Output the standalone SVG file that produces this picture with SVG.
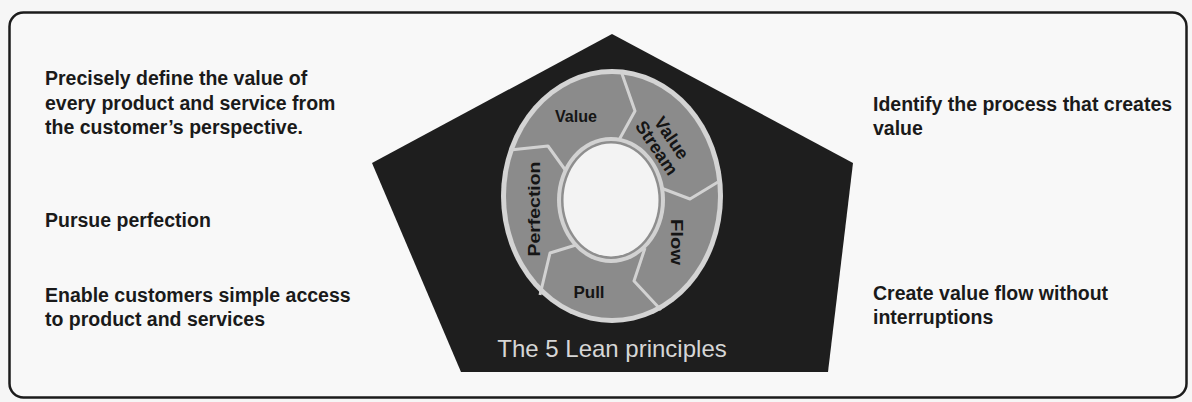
<svg xmlns="http://www.w3.org/2000/svg" width="1192" height="402" viewBox="0 0 1192 402">
  <style>
    .note { font-family: "Liberation Sans", Arial, sans-serif; font-weight: bold; font-size: 19.5px; fill: #1a1a1a; }
    .seg { font-family: "Liberation Sans", Arial, sans-serif; font-weight: bold; font-size: 17px; fill: #151515; }
    .sep { fill: none; stroke: #d2d2d2; stroke-width: 3; stroke-linejoin: round; }
    .title { font-family: "Liberation Sans", Arial, sans-serif; font-size: 24px; fill: #d6d6d6; }
  </style>
  <rect x="0" y="0" width="1192" height="402" fill="#f6f6f6"/>
  <rect id="frame" x="9.5" y="12.5" width="1177" height="385" rx="14" ry="14" fill="#f8f8f8" stroke="#1c1c1c" stroke-width="2.5"/>

  <g id="pentagon">
    <polygon points="612,34 853,163 828,372 461,372 372,163" fill="#1e1e1e"/>
    <text class="title" x="612" y="357" text-anchor="middle">The 5 Lean principles</text>
  </g>

  <g id="cycle">
    <ellipse cx="612" cy="196" rx="111" ry="127" fill="#d4d4d4"/>
    <ellipse cx="612" cy="196" rx="106" ry="122" fill="#8b8b8b"/>
    <ellipse cx="611" cy="200" rx="54" ry="63" fill="#d2d2d2"/>
    <ellipse cx="611" cy="200" rx="50" ry="59" fill="#8e8e8e"/>
    <ellipse cx="611" cy="200" rx="47.5" ry="56.5" fill="#f3f3f3"/>
  </g>

  <g id="connectors">
    <polyline class="sep" points="510,150 548,146 566,171"/>
    <polyline class="sep" points="621,71 635,111 619,140"/>
    <polyline class="sep" points="718,182 690,199 661,188"/>
    <polyline class="sep" points="645,248 634,281 661,310"/>
    <polyline class="sep" points="576,245 550,253 540,295"/>
  </g>

  <g id="seg-value">
    <text class="seg" x="576" y="122" text-anchor="middle" textLength="42" lengthAdjust="spacingAndGlyphs">Value</text>
  </g>
  <g id="seg-value-stream">
    <text class="seg" transform="translate(664,143) rotate(56)" text-anchor="middle" style="font-size:18px"><tspan x="0" y="-3">Value</tspan><tspan x="0" y="15">Stream</tspan></text>
  </g>
  <g id="seg-flow">
    <text class="seg" transform="translate(671,242) rotate(90)" text-anchor="middle" textLength="46" lengthAdjust="spacingAndGlyphs">Flow</text>
  </g>
  <g id="seg-pull">
    <text class="seg" x="589" y="298" text-anchor="middle">Pull</text>
  </g>
  <g id="seg-perfection">
    <text class="seg" transform="translate(540,209) rotate(-90)" text-anchor="middle" textLength="95" lengthAdjust="spacingAndGlyphs">Perfection</text>
  </g>

  <g id="note-value">
    <text class="note" x="45" y="85">Precisely define the value of</text>
    <text class="note" x="45" y="110">every product and service from</text>
    <text class="note" x="45" y="134">the customer’s perspective.</text>
  </g>
  <g id="note-perfection">
    <text class="note" x="45" y="227">Pursue perfection</text>
  </g>
  <g id="note-pull">
    <text class="note" x="45" y="302">Enable customers simple access</text>
    <text class="note" x="45" y="326">to product and services</text>
  </g>
  <g id="note-value-stream">
    <text class="note" x="873" y="111">Identify the process that creates</text>
    <text class="note" x="873" y="135">value</text>
  </g>
  <g id="note-flow">
    <text class="note" x="873" y="300">Create value flow without</text>
    <text class="note" x="873" y="324">interruptions</text>
  </g>
</svg>
